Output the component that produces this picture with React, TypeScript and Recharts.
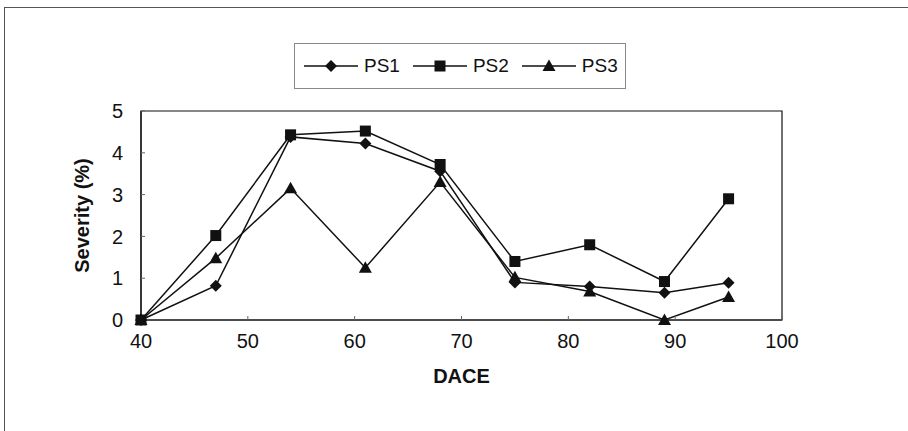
import React from 'react';
import { LineChart, Line, XAxis, YAxis, Legend, ReferenceArea } from 'recharts';

// sampling days and severity readings per plot
const dace = [40, 47, 54, 61, 68, 75, 82, 89, 95];
const ps1 = [0, 0.82, 4.38, 4.22, 3.56, 0.9, 0.8, 0.65, 0.89];
const ps2 = [0, 2.02, 4.43, 4.52, 3.72, 1.4, 1.8, 0.92, 2.9];
const ps3 = [0, 1.48, 3.15, 1.25, 3.3, 1.02, 0.68, 0, 0.55];

const xTicks = [40, 50, 60, 70, 80, 90, 100];
const yTicks = [0, 1, 2, 3, 4, 5];

const data = dace.map((d, i) => ({ dace: d, PS1: ps1[i], PS2: ps2[i], PS3: ps3[i] }));

const INK = '#111';
const FONT = '"Liberation Sans", Arial, sans-serif';

const Marker = ({ kind, cx, cy }: { kind: string; cx: number; cy: number }) => {
  if (kind === 'diamond') {
    return <polygon points={`${cx},${cy - 6} ${cx + 6},${cy} ${cx},${cy + 6} ${cx - 6},${cy}`} fill={INK} />;
  }
  if (kind === 'square') {
    return <rect x={cx - 5.5} y={cy - 5.5} width={11} height={11} fill={INK} />;
  }
  return <polygon points={`${cx},${cy - 6.5} ${cx + 6.5},${cy + 5} ${cx - 6.5},${cy + 5}`} fill={INK} />;
};

const dotFor = (kind: string) => (props: any) => (
  <Marker key={`${kind}-${props.index}`} kind={kind} cx={props.cx} cy={props.cy} />
);

const series = [
  { key: 'PS1', kind: 'diamond' },
  { key: 'PS2', kind: 'square' },
  { key: 'PS3', kind: 'triangle' },
];

const renderLegend = () => (
  <div
    style={{
      border: '1px solid #888',
      height: 46,
      display: 'flex',
      alignItems: 'center',
      paddingLeft: 9,
      boxSizing: 'border-box',
      fontFamily: FONT,
      fontSize: 19,
      color: INK,
    }}
  >
    {series.map((s) => (
      <div key={s.key} style={{ display: 'flex', alignItems: 'center', marginRight: 13 }}>
        <svg width={54} height={16}>
          <line x1={0} y1={8} x2={54} y2={8} stroke={INK} strokeWidth={1.5} />
          <Marker kind={s.kind} cx={27} cy={8} />
        </svg>
        <span style={{ marginLeft: 6 }}>{s.key}</span>
      </div>
    ))}
  </div>
);

export default function App() {
  return (
    <div style={{ position: 'absolute', top: 0, left: 0, width: 908, height: 431, background: '#fff' }}>
      <div
        style={{
          position: 'absolute',
          left: 4,
          top: 7,
          right: -2,
          bottom: -2,
          borderLeft: '1px solid #555',
          borderTop: '1px solid #555',
        }}
      />
      <LineChart
        width={908}
        height={431}
        data={data}
        margin={{ top: 111, right: 126, bottom: 31, left: 23 }}
        style={{ fontFamily: FONT }}
      >
        <ReferenceArea x1={40} x2={100} y1={0} y2={5} fill="none" stroke={INK} strokeWidth={1.2} ifOverflow="visible" />
        <XAxis
          dataKey="dace"
          type="number"
          domain={[40, 100]}
          ticks={xTicks}
          height={80}
          axisLine={{ stroke: INK, strokeWidth: 1.2 }}
          tickLine={{ stroke: '#666' }}
          tickSize={-4}
          tickMargin={18}
          tick={{ fill: INK, fontSize: 20 }}
          label={{ value: 'DACE', position: 'insideBottom', offset: 17, fill: INK, fontSize: 20, fontWeight: 'bold' }}
        />
        <YAxis
          type="number"
          domain={[0, 5]}
          ticks={yTicks}
          width={118}
          axisLine={{ stroke: INK, strokeWidth: 1.2 }}
          tickLine={{ stroke: '#666' }}
          tickSize={-4}
          tickMargin={22}
          tick={{ fill: INK, fontSize: 20 }}
          label={{ value: 'Severity (%)', angle: -90, position: 'center', fill: INK, fontSize: 20, fontWeight: 'bold' }}
        />
        <Legend
          layout="horizontal"
          verticalAlign="middle"
          align="center"
          content={renderLegend}
          wrapperStyle={{ position: 'absolute', top: 43, left: 294, width: 332 }}
        />
        {series.map((s) => (
          <Line
            key={s.key}
            dataKey={s.key}
            type="linear"
            stroke={INK}
            strokeWidth={1.5}
            dot={dotFor(s.kind)}
            activeDot={false}
            isAnimationActive={false}
          />
        ))}
      </LineChart>
    </div>
  );
}
